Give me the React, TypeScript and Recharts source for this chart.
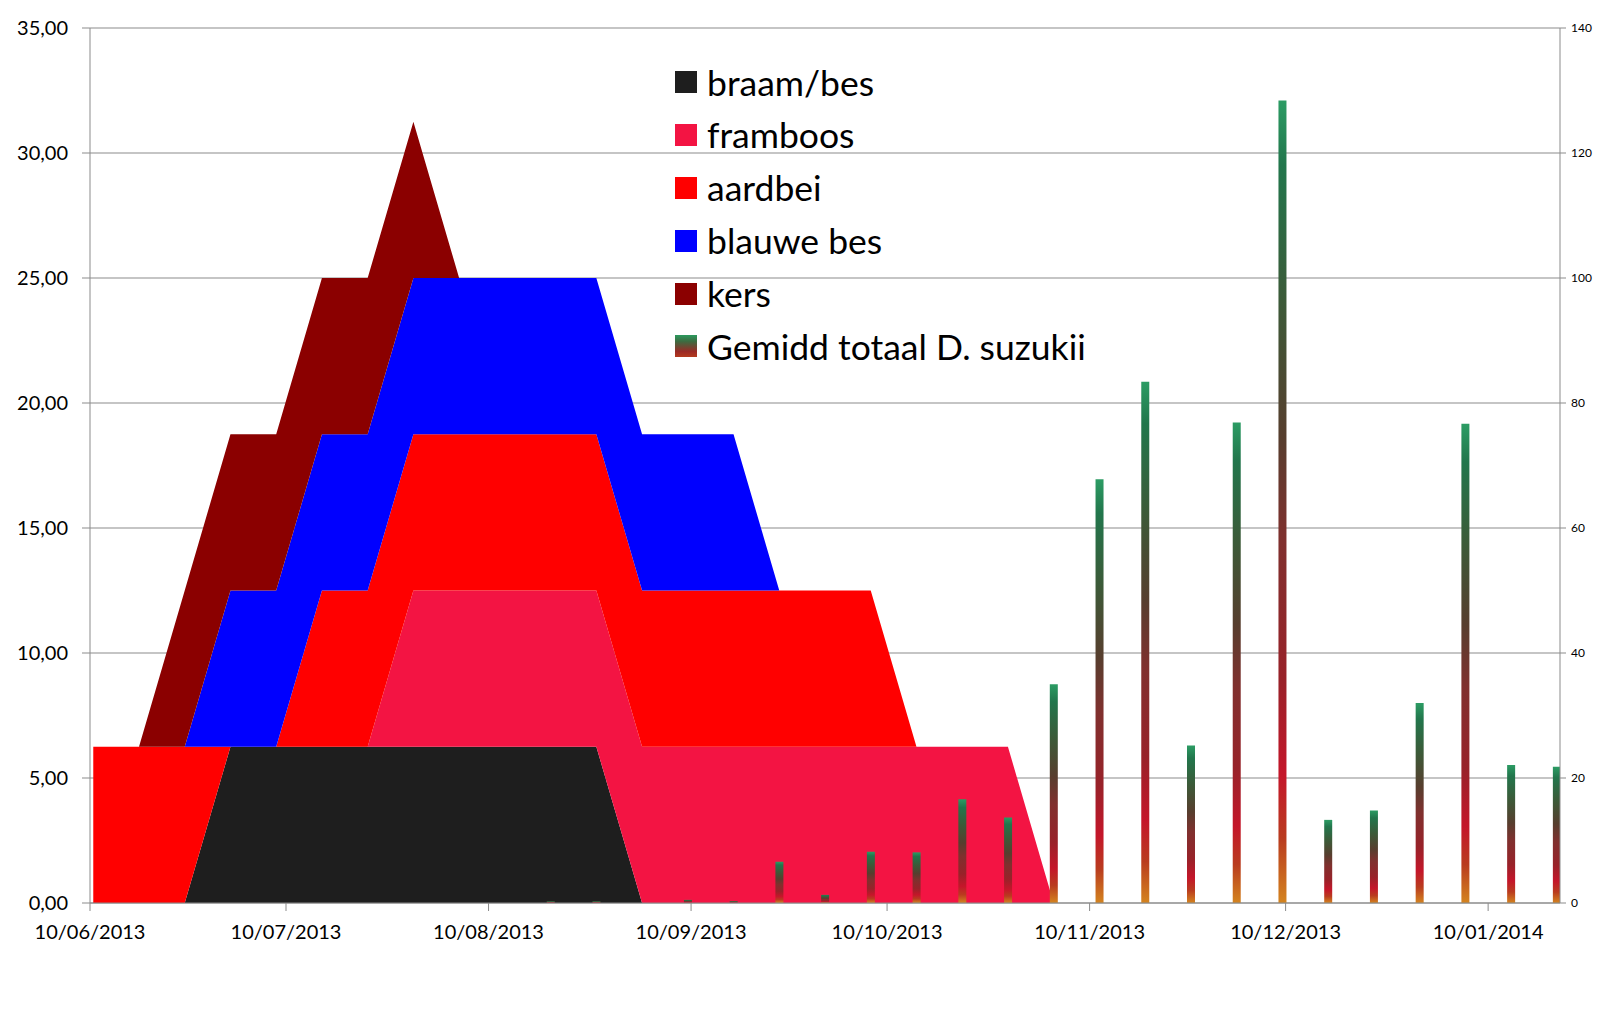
import React from 'react';
import { ComposedChart, Area, Bar, XAxis, YAxis, CartesianGrid, Legend } from 'recharts';

// Weekly sampling dates
const weeks = [
  '2013-06-10', '2013-06-17', '2013-06-24', '2013-07-01', '2013-07-08', '2013-07-15',
  '2013-07-22', '2013-07-29', '2013-08-05', '2013-08-12', '2013-08-19', '2013-08-26',
  '2013-09-02', '2013-09-09', '2013-09-16', '2013-09-23', '2013-09-30', '2013-10-07',
  '2013-10-14', '2013-10-21', '2013-10-28', '2013-11-04', '2013-11-11', '2013-11-18',
  '2013-11-25', '2013-12-02', '2013-12-09', '2013-12-16', '2013-12-23', '2013-12-30',
  '2014-01-06', '2014-01-13', '2014-01-20',
];

const braamBes = [0, 0, 0, 6.25, 6.25, 6.25, 6.25, 6.25, 6.25, 6.25, 6.25, 6.25, 0, 0, 0, 0, 0, 0, 0, 0, 0, 0, 0, 0, 0, 0, 0, 0, 0, 0, 0, 0, 0];
const framboos = [0, 0, 0, 0, 0, 0, 0, 6.25, 6.25, 6.25, 6.25, 6.25, 6.25, 6.25, 6.25, 6.25, 6.25, 6.25, 6.25, 6.25, 6.25, 0, 0, 0, 0, 0, 0, 0, 0, 0, 0, 0, 0];
const aardbei = [6.25, 6.25, 6.25, 0, 0, 6.25, 6.25, 6.25, 6.25, 6.25, 6.25, 6.25, 6.25, 6.25, 6.25, 6.25, 6.25, 6.25, 0, 0, 0, 0, 0, 0, 0, 0, 0, 0, 0, 0, 0, 0, 0];
const blauweBes = [0, 0, 0, 6.25, 6.25, 6.25, 6.25, 6.25, 6.25, 6.25, 6.25, 6.25, 6.25, 6.25, 6.25, 0, 0, 0, 0, 0, 0, 0, 0, 0, 0, 0, 0, 0, 0, 0, 0, 0, 0];
const kers = [0, 0, 6.25, 6.25, 6.25, 6.25, 6.25, 6.25, 0, 0, 0, 0, 0, 0, 0, 0, 0, 0, 0, 0, 0, 0, 0, 0, 0, 0, 0, 0, 0, 0, 0, 0, 0];
const suzukii = [null, null, null, null, null, null, null, null, null, null, 0.3, 0.3, null, 0.5, 0.3, 6.6, 1.3, 8.2, 8.1, 16.6, 13.7, 35.0, 67.8, 83.4, 25.2, 76.9, 128.4, 13.3, 14.8, 32.0, 76.7, 22.1, 21.8];

const tickDates = ['2013-06-10', '2013-07-10', '2013-08-10', '2013-09-10', '2013-10-10', '2013-11-10', '2013-12-10', '2014-01-10'];
const tickLabels = ['10/06/2013', '10/07/2013', '10/08/2013', '10/09/2013', '10/10/2013', '10/11/2013', '10/12/2013', '10/01/2014'];
const axisEndDate = '2014-01-21';

const leftTicks = [0, 5, 10, 15, 20, 25, 30, 35];
const rightTicks = [0, 20, 40, 60, 80, 100, 120, 140];

const seriesInfo = [
  { key: 'braam', name: 'braam/bes', color: '#1e1e1e' },
  { key: 'framboos', name: 'framboos', color: '#f31443' },
  { key: 'aardbei', name: 'aardbei', color: '#ff0000' },
  { key: 'blauwe', name: 'blauwe bes', color: '#0000ff' },
  { key: 'kers', name: 'kers', color: '#8b0000' },
];

const DAY = 86400000;
const t0 = Date.parse(weeks[0]);
const dayOf = (d: string) => (Date.parse(d) - t0) / DAY;

const data = weeks.map((w, i) => ({
  x: dayOf(w) + 0.5,
  braam: braamBes[i],
  framboos: framboos[i],
  aardbei: aardbei[i],
  blauwe: blauweBes[i],
  kers: kers[i],
  suzukii: suzukii[i],
}));

const xTicks = tickDates.map(dayOf);
const labelFor = (v: number) => {
  const idx = xTicks.findIndex((t) => Math.abs(t - v) < 0.01);
  return idx >= 0 ? tickLabels[idx] : '';
};

const FONT = 'Lato, "Open Sans", sans-serif';

const LegendContent = () => (
  <div style={{ fontFamily: FONT, fontSize: 35.5, color: '#000' }}>
    {seriesInfo.map((s) => (
      <div key={s.key} style={{ display: 'flex', alignItems: 'center', height: 52.8 }}>
        <div style={{ width: 22, height: 22, background: s.color, marginRight: 10 }} />
        <span style={{ lineHeight: 1, whiteSpace: 'nowrap' }}>{s.name}</span>
      </div>
    ))}
    <div style={{ display: 'flex', alignItems: 'center', height: 52.8 }}>
      <div
        style={{
          width: 22,
          height: 22,
          background: 'linear-gradient(to bottom, #2b9a5e 0%, #3e6a40 30%, #9a2a26 75%, #b43a1e 100%)',
          marginRight: 10,
        }}
      />
      <span style={{ lineHeight: 1, whiteSpace: 'nowrap' }}>Gemidd totaal D. suzukii</span>
    </div>
  </div>
);

export default function App() {
  return (
    <div style={{ position: 'relative', width: 1594, height: 1010 }}>
      <div
        style={{
          position: 'absolute',
          left: -1,
          top: -1,
          width: 1592,
          height: 1009,
          borderTop: '1px solid #8c8c8c',
          borderLeft: '1px solid #a8a8a8',
          borderRight: '1px solid #cfcfcf',
          borderBottom: 'none',
          boxSizing: 'content-box',
        }}
      />
      <ComposedChart
        width={1594}
        height={1010}
        data={data}
        margin={{ top: 20, right: 0, bottom: 75, left: 0 }}
        style={{ fontFamily: FONT }}
      >
        <defs>
          <linearGradient id="barGrad" x1="0" y1="0" x2="0" y2="1">
            <stop offset="0%" stopColor="#2c9c64" />
            <stop offset="8%" stopColor="#22764c" />
            <stop offset="25%" stopColor="#3c5a38" />
            <stop offset="42%" stopColor="#573e2e" />
            <stop offset="55%" stopColor="#80302e" />
            <stop offset="72%" stopColor="#982229" />
            <stop offset="84%" stopColor="#c4162a" />
            <stop offset="92%" stopColor="#b93c1f" />
            <stop offset="100%" stopColor="#d4841f" />
          </linearGradient>
        </defs>
        <CartesianGrid yAxisId="left" vertical={false} stroke="#8b8b8b" strokeWidth={1} />
        <XAxis
          dataKey="x"
          type="number"
          domain={[0, dayOf(axisEndDate)]}
          ticks={xTicks}
          interval={0}
          tickFormatter={labelFor}
          allowDataOverflow
          height={40}
          stroke="#8b8b8b"
          tickSize={8}
          tickMargin={14}
          tick={{ fontSize: 20, fill: '#000', fontFamily: FONT }}
        />
        <YAxis
          yAxisId="left"
          domain={[0, 35]}
          ticks={leftTicks}
          interval={0}
          width={82}
          stroke="#8b8b8b"
          tickSize={8}
          tickMargin={14}
          tickFormatter={(v: number) => v.toFixed(2).replace('.', ',')}
          tick={{ fontSize: 20, fill: '#000', fontFamily: FONT }}
        />
        <YAxis
          yAxisId="right"
          orientation="right"
          domain={[0, 140]}
          ticks={rightTicks}
          interval={0}
          width={42}
          stroke="#8b8b8b"
          tickSize={6}
          tickMargin={5}
          tick={{ fontSize: 12, fill: '#000', fontFamily: FONT }}
        />
        {seriesInfo.map((s) => (
          <Area
            key={s.key}
            yAxisId="left"
            type="linear"
            dataKey={s.key}
            name={s.name}
            stackId="fruit"
            stroke="none"
            fill={s.color}
            fillOpacity={1}
            isAnimationActive={false}
            dot={false}
            activeDot={false}
          />
        ))}
        <Bar
          yAxisId="right"
          dataKey="suzukii"
          name="Gemidd totaal D. suzukii"
          barSize={8}
          fill="url(#barGrad)"
          isAnimationActive={false}
        />
        <Legend
          layout="vertical"
          verticalAlign="middle"
          align="center"
          content={LegendContent}
          wrapperStyle={{ position: 'absolute', left: 667, top: 48, width: 480, height: 320 }}
        />
      </ComposedChart>
    </div>
  );
}
